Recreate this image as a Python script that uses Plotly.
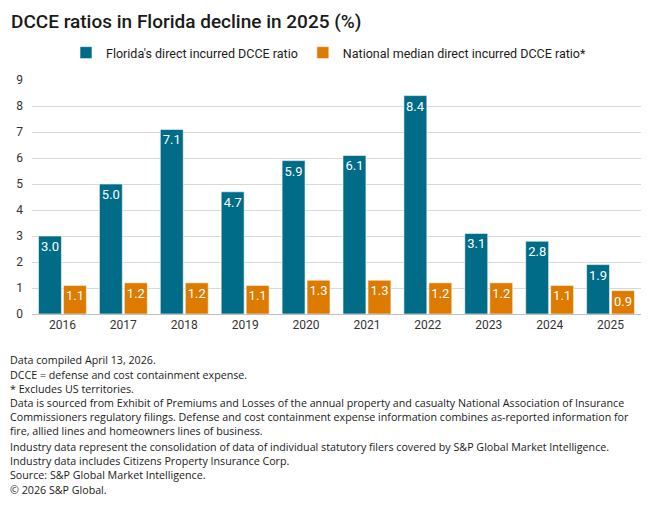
import plotly.graph_objects as go

# chart data
years = ["2016", "2017", "2018", "2019", "2020", "2021", "2022", "2023", "2024", "2025"]
florida_ratio = [3.0, 5.0, 7.1, 4.7, 5.9, 6.1, 8.4, 3.1, 2.8, 1.9]
national_median = [1.1, 1.2, 1.2, 1.1, 1.3, 1.3, 1.2, 1.2, 1.1, 0.9]

florida_name = "Florida's direct incurred DCCE ratio"
national_name = "National median direct incurred DCCE ratio*"

title_text = "DCCE ratios in Florida decline in 2025 (%)"
# one entry per paragraph, lines joined with <br>
footnotes = [
    "Data compiled April 13, 2026.",
    "DCCE = defense and cost containment expense.",
    "* Excludes US territories.",
    "Data is sourced from Exhibit of Premiums and Losses of the annual property and casualty National Association of Insurance<br>"
    "Commissioners regulatory filings. Defense and cost containment expense information combines as-reported information for<br>"
    "fire, allied lines and homeowners lines of business.",
    "Industry data represent the consolidation of data of individual statutory filers covered by S&P Global Market Intelligence.<br>"
    "Industry data includes Citizens Property Insurance Corp.",
    "Source: S&P Global Market Intelligence.",
    "\u00a9 2026 S&P Global.",
]
footnote_y = [360, 375, 389, 417, 454, 475, 490]

FONT = "Roboto"
NOTE_FONT = "Open Sans"
TEAL = "#006C88"
ORANGE = "#DD7A00"

W, H = 660, 506
L, R, T, B = 32, 19, 80, 192
plot_w = W - L - R
plot_h = H - T - B


def px_x(x):
    return (x - L) / plot_w


def px_y(y):
    return (H - B - y) / plot_h


fig = go.Figure()
fig.add_trace(go.Bar(
    x=years, y=florida_ratio, name=florida_name,
    marker=dict(color=TEAL, line=dict(color="white", width=0.6)),
    text=[f"{v:.1f}" for v in florida_ratio], textposition="inside",
    insidetextanchor="end", textangle=0, constraintext="none",
    textfont=dict(color="white", size=13, family=FONT),
))
fig.add_trace(go.Bar(
    x=years, y=national_median, name=national_name,
    marker=dict(color=ORANGE, line=dict(color="white", width=0.6)),
    text=[f"{v:.1f}" for v in national_median], textposition="inside",
    insidetextanchor="end", textangle=0, constraintext="none",
    textfont=dict(color="white", size=13, family=FONT),
))

annotations = [dict(
    text=title_text, xref="paper", yref="paper", x=px_x(9), y=px_y(21),
    xanchor="left", yanchor="middle", showarrow=False,
    font=dict(family=FONT, size=19, color="#1a1a1a", weight=500),
)]
for note, y in zip(footnotes, footnote_y):
    annotations.append(dict(
        text=note, xref="paper", yref="paper", x=px_x(8), y=px_y(y),
        xanchor="left", yanchor="middle", align="left", showarrow=False,
        font=dict(family=NOTE_FONT, size=10.7, color="#1a1a1a"),
    ))

fig.update_layout(
    width=W, height=H,
    margin=dict(l=L, r=R, t=T, b=B, autoexpand=False),
    paper_bgcolor="white", plot_bgcolor="white",
    font=dict(family=FONT, size=12, color="#333333"),
    barmode="group", bargap=0.18, bargroupgap=0.08,
    showlegend=True,
    legend=dict(
        orientation="h", x=px_x(66), y=px_y(53), xanchor="left", yanchor="middle",
        font=dict(family=FONT, size=12.5, color="#1a1a1a"),
        itemwidth=30, traceorder="normal",
    ),
    annotations=annotations,
)
fig.update_xaxes(showgrid=False, showline=True, linecolor="#bfbfbf", linewidth=1,
                 ticks="", tickfont=dict(size=12, color="#333333"))
fig.update_yaxes(range=[0, 9], dtick=1, showgrid=True, gridcolor="#d9d9d9", gridwidth=1,
                 zeroline=False, ticks="", tickfont=dict(size=12, color="#333333"),
                 ticklabelstandoff=8)

# drop the browser's default page margin so the figure sits at the window corner
fig.write_html("out.html", config={"displayModeBar": False},
               post_script="document.body.style.margin='0';")
